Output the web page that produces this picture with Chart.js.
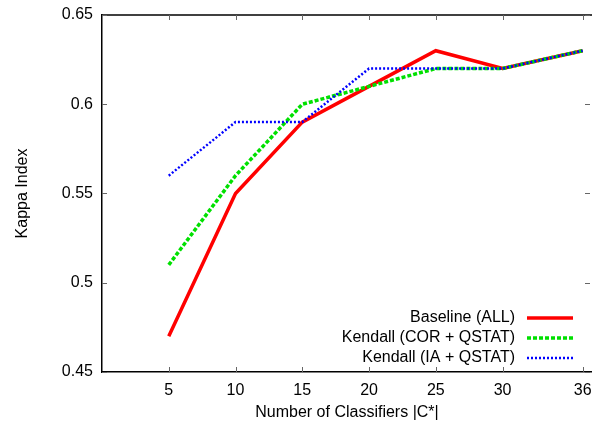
<!DOCTYPE html>
<html>
<head>
<meta charset="utf-8">
<script src="https://cdn.jsdelivr.net/npm/chart.js@4/dist/chart.umd.min.js"></script>
<style>
  html, body { margin: 0; padding: 0; background: #fff; }
  canvas { display: block; }
</style>
</head>
<body>
<canvas id="chart" width="592" height="428"></canvas>
<script>
// ------ Datos ------
const classifiers = [5, 10, 15, 20, 25, 30, 36];
const baseline    = [0.47, 0.55, 0.59, 0.61, 0.63, 0.62, 0.63];
const kendallCor  = [0.51, 0.56, 0.60, 0.61, 0.62, 0.62, 0.63];
const kendallIa   = [0.56, 0.59, 0.59, 0.62, 0.62, 0.62, 0.63];
const xTicks = [5, 10, 15, 20, 25, 30, 36];
const yTicks = [0.45, 0.5, 0.55, 0.6, 0.65];

const FONT = 'Liberation Sans, Arial, Helvetica, sans-serif';
const pts = arr => arr.map((v, i) => ({ x: classifiers[i], y: v }));
const noPad = s => { s.paddingLeft = 0; s.paddingRight = 0; s.paddingTop = 0; s.paddingBottom = 0; };

// ticks hacia dentro + borde superior + leyenda estilo gnuplot
const frame = {
  id: 'frame',
  afterDatasetsDraw(chart) {
    const { ctx, chartArea: a, scales: { x, y } } = chart;
    ctx.save();
    ctx.strokeStyle = '#000';
    ctx.lineWidth = 1.5;
    ctx.beginPath();
    ctx.moveTo(a.left, a.top); ctx.lineTo(a.right, a.top);
    ctx.stroke();

    ctx.strokeStyle = '#666';
    ctx.lineWidth = 1;
    const len = 5;
    ctx.beginPath();
    xTicks.forEach(v => {
      const px = Math.round(x.getPixelForValue(v)) + 0.5;
      ctx.moveTo(px, a.bottom); ctx.lineTo(px, a.bottom - len);
      ctx.moveTo(px, a.top); ctx.lineTo(px, a.top + len);
    });
    yTicks.forEach(v => {
      const py = Math.round(y.getPixelForValue(v)) + 0.5;
      ctx.moveTo(a.left, py); ctx.lineTo(a.left + len, py);
      ctx.moveTo(a.right - 2, py); ctx.lineTo(a.right - 2 - len, py);
    });
    ctx.stroke();

    // leyenda
    ctx.font = '16px ' + FONT;
    ctx.fillStyle = '#000';
    ctx.textAlign = 'right';
    ctx.textBaseline = 'middle';
    chart.data.datasets.forEach((ds, i) => {
      const yy = a.bottom - 54 + i * 20;
      ctx.fillText(ds.label, a.right - 77, yy);
      ctx.strokeStyle = ds.borderColor;
      ctx.lineWidth = ds.borderWidth;
      ctx.setLineDash(ds.borderDash || []);
      ctx.beginPath();
      ctx.moveTo(a.right - 65, yy); ctx.lineTo(a.right - 19, yy);
      ctx.stroke();
    });
    ctx.restore();
  }
};

new Chart(document.getElementById('chart'), {
  type: 'line',
  data: {
    datasets: [
      { label: 'Baseline (ALL)', data: pts(baseline), borderColor: '#ff0000', borderWidth: 3.5, order: 3 },
      { label: 'Kendall (COR + QSTAT)', data: pts(kendallCor), borderColor: '#00e000', borderWidth: 3.5, borderDash: [4, 2], order: 2 },
      { label: 'Kendall (IA + QSTAT)', data: pts(kendallIa), borderColor: '#0000ff', borderWidth: 2.5, borderDash: [2, 2], order: 1 },
    ]
  },
  plugins: [frame],
  options: {
    responsive: false,
    animation: false,
    elements: { point: { radius: 0 }, line: { tension: 0, borderCapStyle: 'butt' } },
    layout: { padding: { top: 15, right: 0, left: 0, bottom: 0 } },
    plugins: { legend: { display: false }, tooltip: { enabled: false } },
    scales: {
      x: {
        type: 'linear', min: 0, max: 36.7,
        afterBuildTicks: s => { s.ticks = xTicks.map(v => ({ value: v })); },
        afterFit: s => { s.height = 56; noPad(s); },
        grid: { display: false, drawTicks: false },
        border: { display: true, color: '#000', width: 1.5 },
        ticks: { color: '#000', font: { family: FONT, size: 16 }, padding: 9, maxRotation: 0, autoSkip: false },
        title: { display: true, text: 'Number of Classifiers |C*|', color: '#000', font: { family: FONT, size: 16 }, padding: { top: 2, bottom: 6 } }
      },
      y: {
        min: 0.45, max: 0.65,
        afterBuildTicks: s => { s.ticks = yTicks.map(v => ({ value: v })); },
        afterFit: s => { s.width = 102; noPad(s); },
        grid: { display: false, drawTicks: false },
        border: { display: true, color: '#000', width: 1.5 },
        ticks: { color: '#000', font: { family: FONT, size: 16 }, padding: 9, callback: v => String(+v.toFixed(2)) },
        title: { display: true, text: 'Kappa Index', color: '#000', font: { family: FONT, size: 16 }, padding: { top: 13, bottom: 0 } }
      }
    }
  }
});
</script>
</body>
</html>
